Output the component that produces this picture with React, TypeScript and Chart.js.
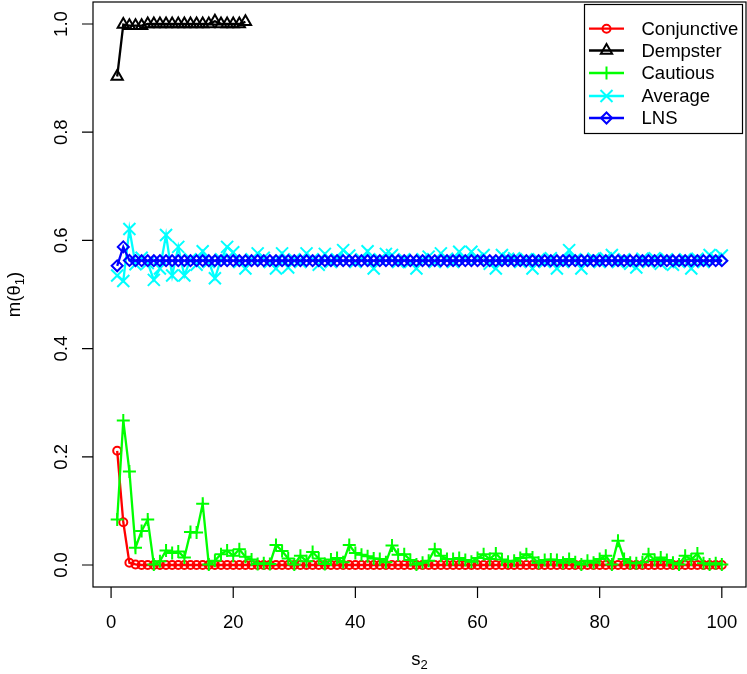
import React, { useEffect, useRef } from "react";
import { Chart, registerables } from "chart.js";

Chart.register(...registerables);

// ---- Data ----
const conjunctive = [
  0.211, 0.079, 0.004, 0.001, 0, 0, 0, 0, 0, 0,
  0, 0, 0, 0, 0, 0, 0, 0, 0, 0,
  0, 0, 0, 0, 0, 0, 0, 0, 0, 0,
  0, 0, 0, 0, 0, 0, 0, 0, 0, 0,
  0, 0, 0, 0, 0, 0, 0, 0, 0, 0,
  0, 0, 0, 0, 0, 0, 0, 0, 0, 0,
  0, 0, 0, 0, 0, 0, 0, 0, 0, 0,
  0, 0, 0, 0, 0, 0, 0, 0, 0, 0,
  0, 0, 0, 0, 0, 0, 0, 0, 0, 0,
  0, 0, 0, 0, 0, 0, 0, 0, 0, 0,
];

const dempster = [
  0.903, 0.999, 0.997, 0.997, 0.997, 1.0, 1.0, 1.0, 1.0, 1.0,
  1.0, 1.0, 1.0, 1.0, 1.0, 1.0, 1.005, 1.0, 1.0, 1.0,
  1.0, 1.004,
];

const cautious = [
  0.084, 0.267, 0.173, 0.032, 0.063, 0.084, 0.001, 0.007, 0.027, 0.022,
  0.025, 0.014, 0.061, 0.06, 0.113, 0.001, 0.008, 0.02, 0.027, 0.017,
  0.029, 0.015, 0.01, 0.002, 0.003, 0.002, 0.037, 0.026, 0.012, 0.001,
  0.017, 0.007, 0.024, 0.012, 0.002, 0.01, 0.013, 0.005, 0.037, 0.022,
  0.019, 0.016, 0.012, 0.011, 0.005, 0.036, 0.019, 0.02, 0.009, 0.001,
  0.004, 0.008, 0.029, 0.017, 0.011, 0.011, 0.013, 0.009, 0.006, 0.013,
  0.02, 0.011, 0.021, 0.01, 0.006, 0.008, 0.013, 0.02, 0.014, 0.004,
  0.009, 0.01, 0.009, 0.004, 0.011, 0.005, 0.001, 0.008, 0.004, 0.011,
  0.017, 0.001, 0.045, 0.011, 0.004, 0.003, 0.005, 0.02, 0.009, 0.014,
  0.009, 0.004, 0.001, 0.017, 0.01, 0.021, 0.003, 0.001, 0.003, 0.001,
];

const average = [
  0.535, 0.525, 0.621, 0.556, 0.568, 0.558, 0.527, 0.548, 0.61, 0.535,
  0.588, 0.535, 0.565, 0.555, 0.58, 0.56, 0.53, 0.565, 0.588, 0.578,
  0.56, 0.548, 0.565, 0.576, 0.568, 0.56, 0.548, 0.576, 0.55, 0.565,
  0.56, 0.576, 0.565, 0.555, 0.575, 0.56, 0.565, 0.582, 0.572, 0.56,
  0.565, 0.58, 0.548, 0.565, 0.575, 0.573, 0.56, 0.565, 0.56, 0.548,
  0.565, 0.57, 0.56, 0.576, 0.566, 0.56, 0.579, 0.565, 0.579, 0.566,
  0.573, 0.557, 0.548, 0.573, 0.566, 0.567, 0.56, 0.565, 0.548, 0.565,
  0.56, 0.567, 0.548, 0.56, 0.582, 0.565, 0.548, 0.563, 0.566, 0.56,
  0.567, 0.573, 0.56, 0.565, 0.557, 0.55, 0.566, 0.56, 0.567, 0.557,
  0.565, 0.555, 0.56, 0.565, 0.548, 0.566, 0.56, 0.573, 0.566, 0.572,
];

const lns = [
  0.553, 0.588, 0.563, 0.5625, 0.5625, 0.5625, 0.5625, 0.5625, 0.5625, 0.5625,
  0.5625, 0.5625, 0.5625, 0.5625, 0.5625, 0.5625, 0.5625, 0.5625, 0.5625, 0.5625,
  0.5625, 0.5625, 0.5625, 0.5625, 0.5625, 0.5625, 0.5625, 0.5625, 0.5625, 0.5625,
  0.5625, 0.5625, 0.5625, 0.5625, 0.5625, 0.5625, 0.5625, 0.5625, 0.5625, 0.5625,
  0.5625, 0.5625, 0.5625, 0.5625, 0.5625, 0.5625, 0.5625, 0.5625, 0.5625, 0.5625,
  0.5625, 0.5625, 0.5625, 0.5625, 0.5625, 0.5625, 0.5625, 0.5625, 0.5625, 0.5625,
  0.5625, 0.5625, 0.5625, 0.5625, 0.5625, 0.5625, 0.5625, 0.5625, 0.5625, 0.5625,
  0.5625, 0.5625, 0.5625, 0.5625, 0.5625, 0.5625, 0.5625, 0.5625, 0.5625, 0.5625,
  0.5625, 0.5625, 0.5625, 0.5625, 0.5625, 0.5625, 0.5625, 0.5625, 0.5625, 0.5625,
  0.5625, 0.5625, 0.5625, 0.5625, 0.5625, 0.5625, 0.5625, 0.5625, 0.5625, 0.5625,
];

const seriesNames = ["Conjunctive", "Dempster", "Cautious", "Average", "LNS"];
const seriesColors = ["#FF0000", "#000000", "#00FF00", "#00FFFF", "#0000FF"];
const seriesStyles = ["circle", "triangle", "cross", "crossRot", "rectRot"];
const seriesRadius = [4, 6.5, 6.5, 8.5, 5.5];

const xTicks = [0, 20, 40, 60, 80, 100];
const xTickLabels = ["0", "20", "40", "60", "80", "100"];
const yTicks = [0, 0.2, 0.4, 0.6, 0.8, 1.0];
const yTickLabels = ["0.0", "0.2", "0.4", "0.6", "0.8", "1.0"];

const FONT = "Liberation Sans, Arial, Helvetica, sans-serif";
const FS = 18.5;
const FS_SUB = 13;

const toPoints = (vals: number[]) => vals.map((v, i) => ({ x: i + 1, y: v }));

const rAxesPlugin = {
  id: "rAxes",
  afterDatasetsDraw(chart: any) {
    const { ctx, chartArea: a } = chart;
    const xs = chart.scales.x;
    const ys = chart.scales.y;
    ctx.save();
    ctx.strokeStyle = "#000";
    ctx.lineWidth = 1.2;
    ctx.strokeRect(a.left, a.top, a.right - a.left, a.bottom - a.top);

    ctx.beginPath();
    xTicks.forEach((t) => {
      const px = xs.getPixelForValue(t);
      ctx.moveTo(px, a.bottom);
      ctx.lineTo(px, a.bottom + 11);
    });
    yTicks.forEach((t) => {
      const py = ys.getPixelForValue(t);
      ctx.moveTo(a.left, py);
      ctx.lineTo(a.left - 11, py);
    });
    ctx.stroke();

    ctx.fillStyle = "#000";
    ctx.font = `${FS}px ${FONT}`;
    ctx.textAlign = "center";
    ctx.textBaseline = "alphabetic";
    xTicks.forEach((t, i) => {
      ctx.fillText(xTickLabels[i], xs.getPixelForValue(t), 628);
    });
    yTicks.forEach((t, i) => {
      ctx.save();
      ctx.translate(66.5, ys.getPixelForValue(t));
      ctx.rotate(-Math.PI / 2);
      ctx.fillText(yTickLabels[i], 0, 0);
      ctx.restore();
    });

    // x title: s_2
    const cx = (a.left + a.right) / 2;
    ctx.font = `${FS}px ${FONT}`;
    const wS = ctx.measureText("s").width;
    ctx.font = `${FS_SUB}px ${FONT}`;
    const w2 = ctx.measureText("2").width;
    const startX = cx - (wS + w2) / 2;
    ctx.textAlign = "left";
    ctx.font = `${FS}px ${FONT}`;
    ctx.fillText("s", startX, 665);
    ctx.font = `${FS_SUB}px ${FONT}`;
    ctx.fillText("2", startX + wS, 669);

    // y title: m(θ_1)
    const cy = (a.top + a.bottom) / 2;
    ctx.save();
    ctx.translate(20, cy);
    ctx.rotate(-Math.PI / 2);
    ctx.font = `${FS}px ${FONT}`;
    const p1 = "m(θ";
    const wp1 = ctx.measureText(p1).width;
    const wp3 = ctx.measureText(")").width;
    ctx.font = `${FS_SUB}px ${FONT}`;
    const wsub = ctx.measureText("1").width;
    let sx = -(wp1 + wsub + wp3) / 2;
    ctx.textAlign = "left";
    ctx.font = `${FS}px ${FONT}`;
    ctx.fillText(p1, sx, 0);
    sx += wp1;
    ctx.font = `${FS_SUB}px ${FONT}`;
    ctx.fillText("1", sx, 4);
    sx += wsub;
    ctx.font = `${FS}px ${FONT}`;
    ctx.fillText(")", sx, 0);
    ctx.restore();

    ctx.restore();
  },
};

function drawMarker(ctx: CanvasRenderingContext2D, style: string, r: number, x: number, y: number) {
  ctx.beginPath();
  if (style === "circle") {
    ctx.arc(x, y, r, 0, Math.PI * 2);
  } else if (style === "triangle") {
    for (let k = 0; k < 3; k++) {
      const ang = (k * 2 * Math.PI) / 3;
      const px = x + Math.sin(ang) * r;
      const py = y - Math.cos(ang) * r;
      if (k === 0) ctx.moveTo(px, py);
      else ctx.lineTo(px, py);
    }
    ctx.closePath();
  } else if (style === "cross") {
    ctx.moveTo(x - r, y);
    ctx.lineTo(x + r, y);
    ctx.moveTo(x, y - r);
    ctx.lineTo(x, y + r);
  } else if (style === "crossRot") {
    const d = r * Math.SQRT1_2;
    ctx.moveTo(x - d, y - d);
    ctx.lineTo(x + d, y + d);
    ctx.moveTo(x - d, y + d);
    ctx.lineTo(x + d, y - d);
  } else if (style === "rectRot") {
    ctx.moveTo(x - r, y);
    ctx.lineTo(x, y - r);
    ctx.lineTo(x + r, y);
    ctx.lineTo(x, y + r);
    ctx.closePath();
  }
  ctx.stroke();
}

const rLegendPlugin = {
  id: "rLegend",
  afterDraw(chart: any) {
    const { ctx } = chart;
    const left = 584.5;
    const right = 742.5;
    const top = 4.5;
    const bottom = 133.5;
    const rowYs = [28.7, 50.5, 73, 96, 118];
    ctx.save();
    ctx.fillStyle = "#fff";
    ctx.fillRect(left, top, right - left, bottom - top);
    ctx.strokeStyle = "#000";
    ctx.lineWidth = 1.2;
    ctx.strokeRect(left, top, right - left, bottom - top);
    ctx.font = `${FS}px ${FONT}`;
    ctx.textAlign = "left";
    ctx.textBaseline = "middle";
    seriesNames.forEach((name, i) => {
      const y = rowYs[i];
      ctx.strokeStyle = seriesColors[i];
      ctx.lineWidth = 2.3;
      ctx.beginPath();
      ctx.moveTo(589, y);
      ctx.lineTo(624, y);
      ctx.stroke();
      ctx.lineWidth = 2;
      drawMarker(ctx, seriesStyles[i], seriesRadius[i], 606.5, y);
      ctx.fillStyle = "#000";
      ctx.fillText(name, 641.5, y + 1);
    });
    ctx.restore();
  },
};

export default function App() {
  const canvasRef = useRef<HTMLCanvasElement | null>(null);

  useEffect(() => {
    const canvas = canvasRef.current;
    if (!canvas) return;
    const allSeries = [conjunctive, dempster, cautious, average, lns];
    const datasets = allSeries.map((vals, i) => ({
      label: seriesNames[i],
      data: toPoints(vals),
      borderColor: seriesColors[i],
      backgroundColor: "rgba(0,0,0,0)",
      borderWidth: 2.3,
      pointStyle: seriesStyles[i] as any,
      pointRadius: seriesRadius[i],
      pointBorderColor: seriesColors[i],
      pointBackgroundColor: "rgba(0,0,0,0)",
      pointBorderWidth: 2,
      tension: 0,
      fill: false,
      order: allSeries.length - i,
    }));
    const chart = new Chart(canvas, {
      type: "line",
      data: { datasets },
      options: {
        animation: false,
        responsive: false,
        devicePixelRatio: 1,
        layout: {
          autoPadding: false,
          padding: { left: 93, right: 1, top: 2, bottom: 87 },
        },
        plugins: {
          legend: { display: false },
          tooltip: { enabled: false },
        },
        scales: {
          x: { type: "linear", min: -2.96, max: 103.96, display: false },
          y: { type: "linear", min: -0.0407, max: 1.0407, display: false },
        },
      },
      plugins: [rAxesPlugin, rLegendPlugin],
    });
    return () => chart.destroy();
  }, []);

  return (
    <div style={{ position: "absolute", left: 0, top: 0, width: 747, height: 674, background: "#fff" }}>
      <canvas ref={canvasRef} width={747} height={674} style={{ display: "block" }} />
    </div>
  );
}
